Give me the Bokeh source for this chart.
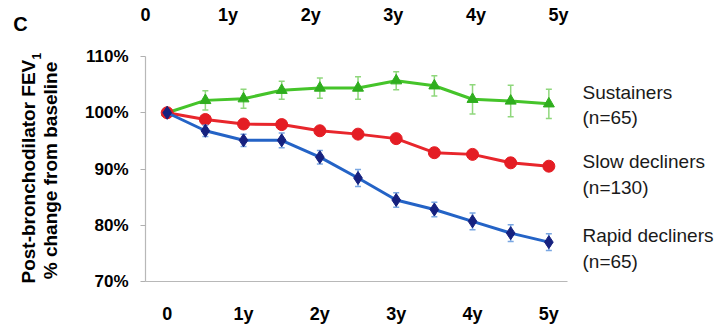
from math import pi

from bokeh.core.properties import value
from bokeh.embed import file_html
from bokeh.layouts import row
from bokeh.models import FixedTicker, LinearAxis, Range1d
from bokeh.plotting import figure
from bokeh.resources import INLINE

# ---- data: post-bronchodilator FEV1, % of baseline, every 6 months ----
years = [0, 0.5, 1, 1.5, 2, 2.5, 3, 3.5, 4, 4.5, 5]

sustainers = [100, 102.2, 102.5, 104.0, 104.4, 104.4, 105.7, 104.8, 102.4, 102.1, 101.6]
sustainers_err = [0, 1.7, 1.7, 1.6, 1.8, 2.0, 1.6, 1.8, 2.6, 2.8, 2.6]

slow_decliners = [100, 98.8, 98.0, 97.9, 96.8, 96.2, 95.4, 92.9, 92.6, 91.1, 90.5]
slow_decliners_err = [0, 0.7, 0.8, 0.8, 0.7, 0.7, 0.8, 0.8, 0.7, 0.8, 0.6]

rapid_decliners = [100, 96.8, 95.1, 95.1, 92.1, 88.4, 84.5, 82.8, 80.7, 78.6, 77.0]
rapid_decliners_err = [0, 1.0, 1.1, 1.3, 1.2, 1.5, 1.3, 1.3, 1.5, 1.5, 1.5]

group_names = ["Sustainers", "Slow decliners", "Rapid decliners"]
group_sizes = ["(n=65)", "(n=130)", "(n=65)"]

year_ticks = [0, 1, 2, 3, 4, 5]
year_labels = ["0", "1y", "2y", "3y", "4y", "5y"]
pct_ticks = [70, 80, 90, 100, 110]

# ---- layout (page pixels) ----
W, H = 720, 326
SIDE_W = 75                              # strip holding the panel letter and y title
FRAME_L, FRAME_R, FRAME_T, FRAME_B = 145, 720, 56, 283
ZERO_PX, PX_PER_YEAR = 166.7, 76.33      # horizontal data scale
PX_PER_PCT = 5.675                       # vertical data scale
TOP_PX_PER_YEAR = 82.6                   # spacing of the header year row
AXIS_END_PX = 567

FONT = "Liberation Sans"
x_start = (FRAME_L - ZERO_PX) / PX_PER_YEAR
x_end = x_start + (FRAME_R - FRAME_L) / PX_PER_YEAR
y_start = 70
y_end = y_start + (FRAME_B - FRAME_T) / PX_PER_PCT

# ---- side strip: panel letter and two-line y-axis title ----
side = figure(
    width=SIDE_W, height=H, output_backend="svg", toolbar_location=None,
    x_range=Range1d(0, SIDE_W), y_range=Range1d(H, 0),
    min_border=0,
)
side.frame_align = False
side.title.visible = False
side.axis.visible = False
side.grid.visible = False
side.outline_line_color = None
side.background_fill_color = "white"
side.border_fill_color = "white"

side.text(x=[20, 28, 50], y=[23, 283, 170],
          text=["C", "Post-bronchodilator FEV", "% change from baseline"],
          angle=[0, pi / 2, pi / 2], text_align=["center", "left", "center"],
          text_font=value(FONT), text_font_style="bold",
          text_font_size=["20px", "19px", "19px"],
          text_baseline="middle", text_color="black")
# subscript of FEV1
side.text(x=[36], y=[59], text=["1"], angle=pi / 2, text_align="left",
          text_font=value(FONT), text_font_style="bold", text_font_size="12px",
          text_baseline="middle", text_color="black")

# ---- main chart ----
p = figure(
    width=W - SIDE_W, height=H, output_backend="svg", toolbar_location=None,
    x_range=Range1d(x_start, x_end), y_range=Range1d(y_start, y_end),
    min_border_left=FRAME_L - SIDE_W, min_border_right=0,
    min_border_top=FRAME_T, min_border_bottom=H - FRAME_B,
)
p.frame_align = False
p.title.visible = False
p.outline_line_color = None
p.grid.visible = False
p.background_fill_color = "white"
p.border_fill_color = "white"

p.extra_x_ranges = {
    "page": Range1d(FRAME_L, FRAME_R),
    "top": Range1d(0, (FRAME_R - FRAME_L) / TOP_PX_PER_YEAR),
}
p.extra_y_ranges = {"page": Range1d(FRAME_B, FRAME_T)}

# bottom axis
xa = p.xaxis[0]
xa.ticker = FixedTicker(ticks=year_ticks)
xa.major_label_overrides = dict(zip(year_ticks, year_labels))
xa.bounds = (x_start, x_start + (AXIS_END_PX - FRAME_L) / PX_PER_YEAR)
xa.axis_line_color = "#b8b8b8"
xa.axis_line_width = 1.2
xa.major_tick_out = 0
xa.major_tick_in = 0
xa.minor_tick_line_color = None
xa.major_label_standoff = 22
xa.major_label_text_font = FONT
xa.major_label_text_font_style = "bold"
xa.major_label_text_font_size = "18px"
xa.major_label_text_color = "black"

# header year row
top = LinearAxis(x_range_name="top", ticker=FixedTicker(ticks=year_ticks))
top.major_label_overrides = dict(zip(year_ticks, year_labels))
top.axis_line_color = None
top.major_tick_line_color = None
top.minor_tick_line_color = None
top.major_tick_out = 0
top.major_tick_in = 0
top.major_label_standoff = 32
top.major_label_text_font = FONT
top.major_label_text_font_style = "bold"
top.major_label_text_font_size = "18px"
top.major_label_text_color = "black"
p.add_layout(top, "above")

# y axis
ya = p.yaxis[0]
ya.ticker = FixedTicker(ticks=pct_ticks)
ya.major_label_overrides = {t: f"{t}%" for t in pct_ticks}
ya.bounds = (70, 110)
ya.axis_line_color = "#b8b8b8"
ya.axis_line_width = 1.2
ya.major_tick_line_color = "#b0b0b0"
ya.major_tick_out = 5
ya.major_tick_in = 0
ya.minor_tick_line_color = None
ya.major_label_standoff = 12
ya.major_label_text_font = FONT
ya.major_label_text_font_style = "bold"
ya.major_label_text_font_size = "17px"
ya.major_label_text_color = "black"

series = [
    (sustainers, sustainers_err, "#45c42a", "#8fd77c", "triangle", 11, "#2fae1e"),
    (slow_decliners, slow_decliners_err, "#e8262c", "#f07b7b", "circle", 12, "#e41d24"),
    (rapid_decliners, rapid_decliners_err, "#2463c6", "#79a6e2", "diamond", 13, "#16217f"),
]

for vals, errs, line_c, err_c, marker, msize, mark_c in series:
    upper = [v + e for v, e in zip(vals, errs)]
    lower = [v - e for v, e in zip(vals, errs)]
    p.line(years, vals, line_color=line_c, line_width=3)
    p.segment(x0=years, y0=lower, x1=years, y1=upper, line_color=err_c, line_width=1.5)
    p.scatter(years, upper, marker="dash", size=6, line_color=err_c, line_width=1.5)
    p.scatter(years, lower, marker="dash", size=6, line_color=err_c, line_width=1.5)
    p.scatter(years, vals, marker=marker, size=msize, fill_color=mark_c, line_color=mark_c)

# group labels on the right
label_y = []
label_text = []
for name, n, ypx in zip(group_names, group_sizes, [92, 162, 237]):
    label_text += [name, n]
    label_y += [ypx, ypx + 26]
p.text(x=[582] * len(label_text), y=label_y, text=label_text,
       x_range_name="page", y_range_name="page",
       text_font=value(FONT), text_font_size="19px", text_align="left",
       text_baseline="middle", text_color="#1a1a1a")

layout = row(side, p, spacing=0)
open("out.html", "w").write(file_html(layout, INLINE))
